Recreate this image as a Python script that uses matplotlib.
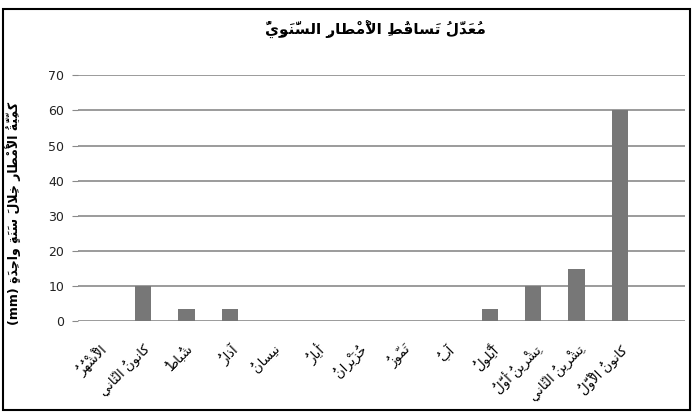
import matplotlib
matplotlib.use("Agg")
import matplotlib.pyplot as plt
from matplotlib.patches import Rectangle

# ---- data -------------------------------------------------------------
title_text = "مُعَدَّلُ تَساقُطِ الْأَمْطارِ السَّنَوِيُّ"
ylabel_text = "كَمِّيَّةُ الْأَمْطارِ خِلالَ سَنَةٍ واحِدَةٍ"
ylabel_unit = "(mm)"
months = [
    "الْأَشْهُرُ",
    "كانونُ الثّاني",
    "شُباطُ",
    "آذارُ",
    "نيسانُ",
    "أَيارُ",
    "حُزَيْرانُ",
    "تَمّوزُ",
    "آبُ",
    "أَيْلولُ",
    "تِشْرينُ أَوَّلُ",
    "تِشْرينُ الثّاني",
    "كانونُ الْأَوَّلُ",
    "",
]
rainfall = [0, 10, 3.5, 3.5, 0, 0, 0, 0, 0, 3.5, 10, 15, 60, 0]
y_ticks = [0, 10, 20, 30, 40, 50, 60, 70]

# ---- minimal Arabic shaping (presentation forms + visual order) --------
DUAL = {'ئ': 0xFE89, 'ب': 0xFE8F, 'ت': 0xFE95, 'ث': 0xFE99, 'ج': 0xFE9D,
        'ح': 0xFEA1, 'خ': 0xFEA5, 'س': 0xFEB1, 'ش': 0xFEB5, 'ص': 0xFEB9,
        'ض': 0xFEBD, 'ط': 0xFEC1, 'ظ': 0xFEC5, 'ع': 0xFEC9, 'غ': 0xFECD,
        'ف': 0xFED1, 'ق': 0xFED5, 'ك': 0xFED9, 'ل': 0xFEDD, 'م': 0xFEE1,
        'ن': 0xFEE5, 'ه': 0xFEE9, 'ي': 0xFEF1}
RIGHT = {'آ': 0xFE81, 'أ': 0xFE83, 'ؤ': 0xFE85, 'إ': 0xFE87, 'ا': 0xFE8D,
         'ة': 0xFE93, 'د': 0xFEA9, 'ذ': 0xFEAB, 'ر': 0xFEAD, 'ز': 0xFEAF,
         'و': 0xFEED, 'ى': 0xFEEF}
NONJOIN = {'ء': 0xFE80}
LAMALEF = {'آ': 0xFEF5, 'أ': 0xFEF7, 'إ': 0xFEF9, 'ا': 0xFEFB}
MARKS = {chr(c) for c in range(0x064B, 0x0653)} | {'\u0670'}


def shape_rtl(text):
    """Join Arabic letters into contextual forms and return them in
    left-to-right drawing order (marks placed just before their base,
    since the font draws zero-width marks to the right of the pen)."""
    clusters = []
    for ch in text:
        if ch in MARKS and clusters:
            clusters[-1][1].append(ch)
        else:
            clusters.append([ch, []])
    merged = []
    i = 0
    while i < len(clusters):
        b, m = clusters[i]
        if b == 'ل' and i + 1 < len(clusters) and clusters[i + 1][0] in LAMALEF:
            merged.append(['LA' + clusters[i + 1][0], m + clusters[i + 1][1]])
            i += 2
        else:
            merged.append([b, m])
            i += 1

    def links_next(b):
        return b in DUAL

    def links_prev(b):
        return b in DUAL or b in RIGHT or (len(b) == 3 and b.startswith('LA'))

    out = []
    for i, (b, m) in enumerate(merged):
        prev = merged[i - 1][0] if i > 0 else None
        nxt = merged[i + 1][0] if i + 1 < len(merged) else None
        cp = prev is not None and links_next(prev) and links_prev(b)
        cn = nxt is not None and links_next(b) and links_prev(nxt)
        if len(b) == 3 and b.startswith('LA'):
            g = chr(LAMALEF[b[2]] + (1 if cp else 0))
        elif b in DUAL:
            g = chr(DUAL[b] + (3 if (cp and cn) else 2 if cn else 1 if cp else 0))
        elif b in RIGHT:
            g = chr(RIGHT[b] + (1 if cp else 0))
        elif b in NONJOIN:
            g = chr(NONJOIN[b])
        else:
            g = b
        out.append(''.join(m) + g)
    return ''.join(reversed(out))


# ---- figure -----------------------------------------------------------
W, H, DPI = 694, 419, 100
plt.rcParams['font.family'] = ['DejaVu Sans']
fig = plt.figure(figsize=(W / DPI, H / DPI), dpi=DPI)
fig.patch.set_facecolor('white')

left, right, top, bottom = 78, 685, 75.3, 321.3
ax = fig.add_axes([left / W, 1 - bottom / H, (right - left) / W, (bottom - top) / H])

x = list(range(len(months)))
ax.bar(x, rainfall, width=0.38, color='#777777', zorder=3)

ax.set_xlim(-0.5, len(months) - 0.5)
ax.set_ylim(0, 70)
ax.set_yticks(y_ticks)
ax.set_yticklabels([str(v) for v in y_ticks], fontsize=9, color='#222222')
ax.yaxis.grid(True, color='#8a8a8a', linewidth=1.2, zorder=0)
ax.set_axisbelow(True)
for s in ['left', 'right', 'top', 'bottom']:
    ax.spines[s].set_visible(False)
ax.tick_params(axis='y', length=4, color='#8a8a8a', pad=6)

ax.set_xticks(x)
ax.set_xticklabels([shape_rtl(m) for m in months], rotation=45,
                   ha='right', va='top', rotation_mode='anchor', fontsize=9.5)
ax.tick_params(axis='x', length=0, pad=15)

fig.text(375 / W, 1 - 30 / H, shape_rtl(title_text), ha='center', va='center',
         fontsize=11, fontweight='bold')
fig.text(14 / W, 1 - 213 / H, ylabel_unit + " " + shape_rtl(ylabel_text),
         rotation=90, ha='center', va='center', fontsize=9, fontweight='bold')

# outer frame of the chart
fig.patches.append(Rectangle((3 / W, 1 - 410 / H), 687 / W, 401 / H,
                             transform=fig.transFigure, fill=False,
                             edgecolor='black', linewidth=1.5))

fig.savefig('out.png', dpi=DPI)
